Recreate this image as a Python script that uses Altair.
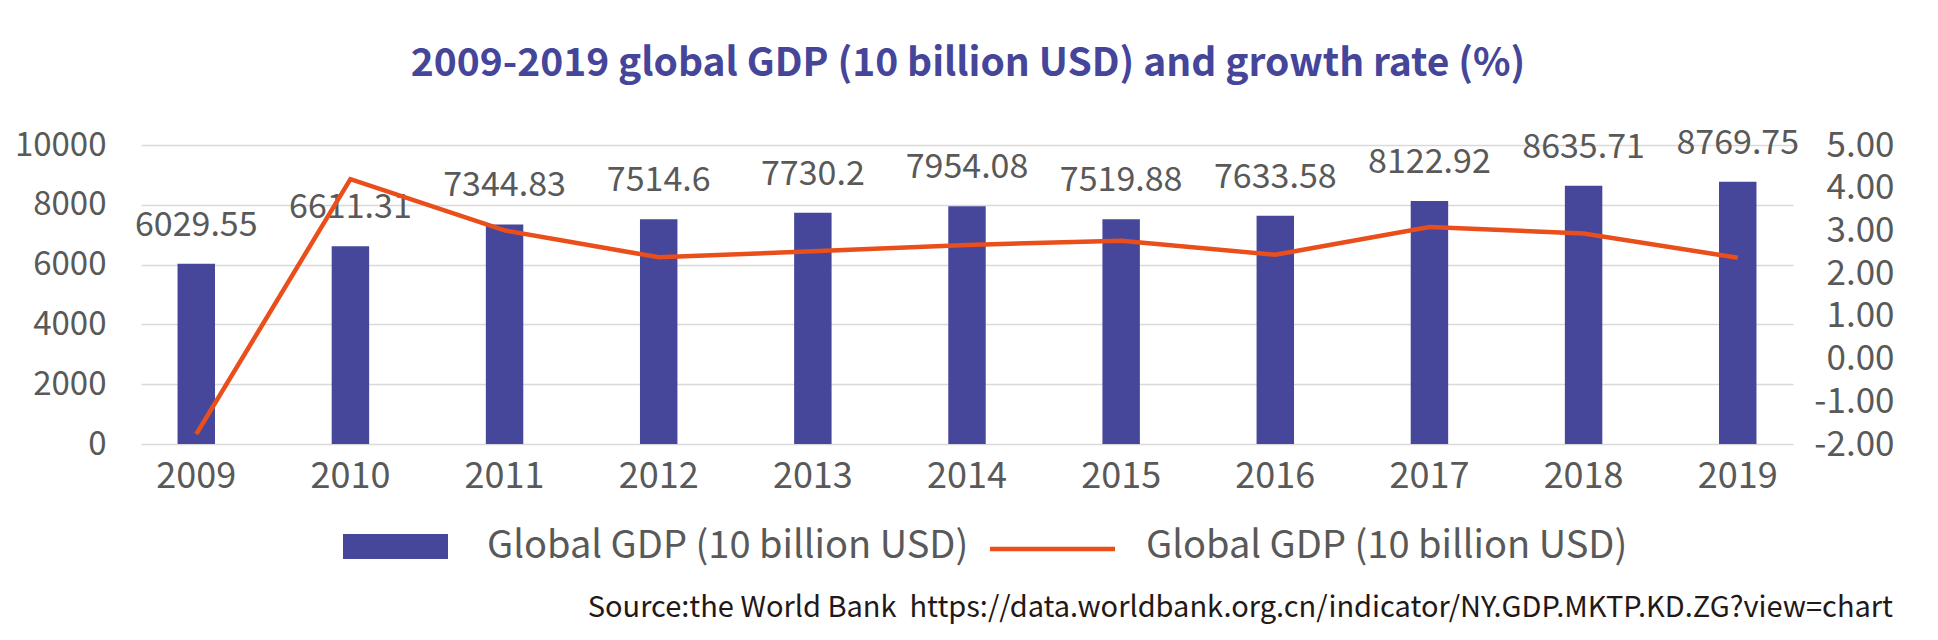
import altair as alt
import pandas as pd

# Chart data
years = ["2009", "2010", "2011", "2012", "2013", "2014", "2015", "2016", "2017", "2018", "2019"]
gdp = [6029.55, 6611.31, 7344.83, 7514.6, 7730.2, 7954.08, 7519.88, 7633.58, 8122.92, 8635.71, 8769.75]
growth = [-1.77, 4.20, 3.00, 2.37, 2.51, 2.66, 2.76, 2.43, 3.08, 2.93, 2.36]
gdp_ticks = [0, 2000, 4000, 6000, 8000, 10000]
growth_ticks = [-2, -1, 0, 1, 2, 3, 4, 5]

title_text = "2009-2019 global GDP (10 billion USD) and growth rate (%)"
legend_bar_text = "Global GDP (10 billion USD)"
legend_line_text = "Global GDP (10 billion USD)"
# non-breaking spaces keep the double gap from collapsing in SVG
source_text = "Source:the World Bank\u00a0\u00a0https://data.worldbank.org.cn/indicator/NY.GDP.MKTP.KD.ZG?view=chart"

df = pd.DataFrame({"year": years, "gdp": gdp, "growth": growth})

FONT = "Noto Sans CJK SC"
BAR = "#46479b"
LINE = "#e94e1b"
GREY = "#595959"
GRID = "#d9d9d9"

x_enc = alt.X(
    "year:N",
    sort=years,
    title=None,
    scale=alt.Scale(paddingInner=0.757, paddingOuter=0.237),
    axis=alt.Axis(
        labelAngle=0, labelFontSize=36, labelColor=GREY, labelFont=FONT,
        labelBaseline="alphabetic", labelPadding=43,
        domain=False, ticks=False, tickSize=0, grid=False,
    ),
)
x_mid = alt.X("year:N", sort=years, bandPosition=0.5)

bars = alt.Chart(df).mark_bar(color=BAR).encode(
    x=x_enc,
    y=alt.Y(
        "gdp:Q",
        title=None,
        scale=alt.Scale(domain=[0, 10000], nice=False),
        axis=alt.Axis(
            values=gdp_ticks, format="d", labelFontSize=33, labelColor=GREY,
            labelFont=FONT, labelPadding=35, domain=False, ticks=False, tickSize=0,
            grid=True, gridColor=GRID, gridWidth=1.5,
        ),
    ),
)

bar_labels = alt.Chart(df).mark_text(
    font=FONT, fontSize=34, color=GREY, baseline="alphabetic", dy=-28
).encode(
    x=x_mid,
    y=alt.Y("gdp:Q"),
    text=alt.Text("gdp:Q", format=".2~f"),
)

line = alt.Chart(df).mark_line(color=LINE, strokeWidth=4.5).encode(
    x=x_mid,
    y=alt.Y(
        "growth:Q",
        title=None,
        scale=alt.Scale(domain=[-2, 5], nice=False, zero=False),
        axis=alt.Axis(
            orient="right", values=growth_ticks,
            labelExpr="(datum.value < 0 ? '-' : '') + format(abs(datum.value), '.2f')",
            labelAlign="right", labelPadding=101, labelFontSize=35, labelColor=GREY,
            labelFont=FONT, domain=False, ticks=False, tickSize=0, grid=False,
        ),
    ),
)

one = pd.DataFrame({"k": [0]})

title = alt.Chart(pd.DataFrame({"t": [title_text]})).mark_text(
    font=FONT, fontSize=39, fontWeight="bold", color="#45459a",
    align="center", baseline="alphabetic",
).encode(text="t:N", x=alt.value(827), y=alt.value(-69))

legend_swatch = alt.Chart(one).mark_rect(color=BAR).encode(
    x=alt.value(202), x2=alt.value(307), y=alt.value(389), y2=alt.value(414)
)
legend_bar_label = alt.Chart(pd.DataFrame({"t": [legend_bar_text]})).mark_text(
    font=FONT, fontSize=38, color=GREY, align="left", baseline="alphabetic",
).encode(text="t:N", x=alt.value(346), y=alt.value(413))

legend_stroke = alt.Chart(one).mark_rule(color=LINE, strokeWidth=4.5).encode(
    x=alt.value(849), x2=alt.value(974), y=alt.value(404)
)
legend_line_label = alt.Chart(pd.DataFrame({"t": [legend_line_text]})).mark_text(
    font=FONT, fontSize=38, color=GREY, align="left", baseline="alphabetic",
).encode(text="t:N", x=alt.value(1005), y=alt.value(413))

source = alt.Chart(pd.DataFrame({"t": [source_text]})).mark_text(
    font=FONT, fontSize=29, color="#231815", align="right", baseline="alphabetic",
).encode(text="t:N", x=alt.value(1752), y=alt.value(472))

chart = alt.layer(
    alt.layer(bars, bar_labels),
    line,
    title,
    legend_swatch,
    legend_bar_label,
    legend_stroke,
    legend_line_label,
    source,
).resolve_scale(
    y="independent"
).properties(
    width=1652,
    height=299,
    autosize=alt.AutoSizeParams(type="none"),
    padding={"left": 141, "top": 145, "right": 145, "bottom": 196},
    background="white",
).configure_view(stroke=None)

chart.save("out.html", embed_options={"renderer": "svg", "actions": False})
